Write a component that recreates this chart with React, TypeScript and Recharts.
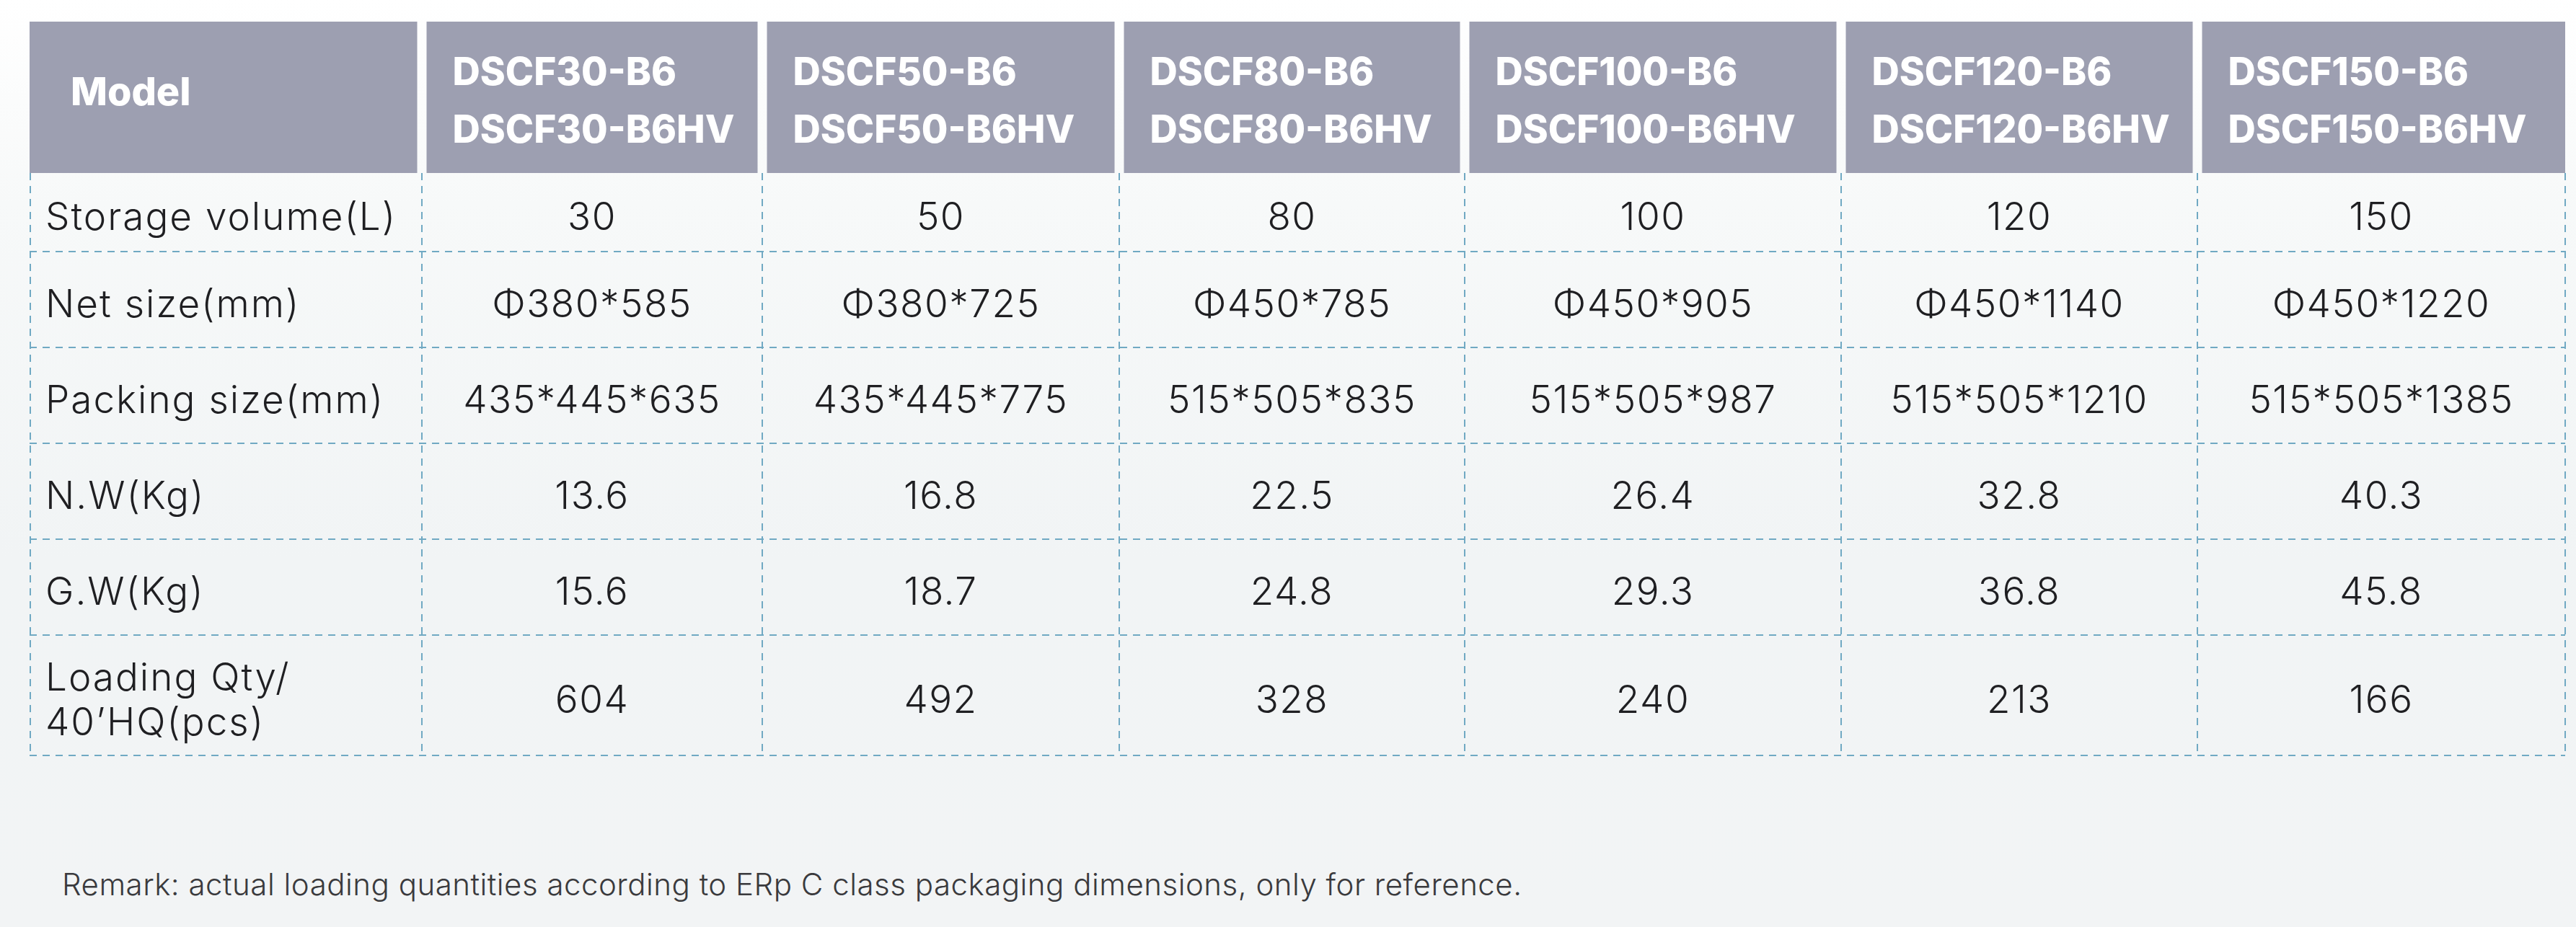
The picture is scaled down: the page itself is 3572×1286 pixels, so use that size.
import React from "react";
import { ScatterChart, Scatter, XAxis, YAxis, ReferenceLine } from "recharts";

const W = 3572;
const H = 1286;

// ---- data ----
const headerLabel = "Model";
const modelsB6 = ["DSCF30-B6", "DSCF50-B6", "DSCF80-B6", "DSCF100-B6", "DSCF120-B6", "DSCF150-B6"];
const modelsHV = ["DSCF30-B6HV", "DSCF50-B6HV", "DSCF80-B6HV", "DSCF100-B6HV", "DSCF120-B6HV", "DSCF150-B6HV"];
const rowLabels = [
  ["Storage volume(L)"],
  ["Net size(mm)"],
  ["Packing size(mm)"],
  ["N.W(Kg)"],
  ["G.W(Kg)"],
  ["Loading Qty/", "40\u2019HQ(pcs)"],
];
const storageVolume = [30, 50, 80, 100, 120, 150];
const netSize = ["\u03A6380*585", "\u03A6380*725", "\u03A6450*785", "\u03A6450*905", "\u03A6450*1140", "\u03A6450*1220"];
const packingSize = ["435*445*635", "435*445*775", "515*505*835", "515*505*987", "515*505*1210", "515*505*1385"];
const netWeight = ["13.6", "16.8", "22.5", "26.4", "32.8", "40.3"];
const grossWeight = ["15.6", "18.7", "24.8", "29.3", "36.8", "45.8"];
const loadingQty = [604, 492, 328, 240, 213, 166];
const remark = "Remark: actual loading quantities according to ERp C class packaging dimensions, only for reference.";

// ---- layout (pixel units of the chart scale) ----
const COL_EDGES = [41, 585, 1057, 1552, 2031, 2553, 3047, 3557];
const ROW_EDGES = [30, 240, 349, 482, 615, 748, 881, 1048];
const GAP = 13;

const FONT = "Inter, 'Noto Sans', sans-serif";
const HEADER_FILL = "#9d9fb1";
const DASH = "#70a9c3";

const rowValues = [storageVolume, netSize, packingSize, netWeight, grossWeight, loadingQty];

const headerCells = COL_EDGES.slice(0, -1).map((e0, c) => {
  const e1 = COL_EDGES[c + 1];
  const left = c === 0 ? e0 : e0 + GAP / 2;
  const right = c === COL_EDGES.length - 2 ? e1 : e1 - GAP / 2;
  return {
    x: (left + right) / 2,
    y: (ROW_EDGES[0] + ROW_EDGES[1]) / 2,
    w: right - left,
    h: ROW_EDGES[1] - ROW_EDGES[0],
    col: c,
    lines: c === 0 ? [headerLabel] : [modelsB6[c - 1], modelsHV[c - 1]],
  };
});

const labelCells = rowLabels.map((lines, r) => ({
  x: (COL_EDGES[0] + COL_EDGES[1]) / 2,
  y: (ROW_EDGES[r + 1] + ROW_EDGES[r + 2]) / 2,
  w: COL_EDGES[1] - COL_EDGES[0],
  h: ROW_EDGES[r + 2] - ROW_EDGES[r + 1],
  lines,
  align: "left",
}));

const valueCells = rowValues.flatMap((vals, r) =>
  vals.map((v, c) => ({
    x: (COL_EDGES[c + 1] + COL_EDGES[c + 2]) / 2,
    y: (ROW_EDGES[r + 1] + ROW_EDGES[r + 2]) / 2,
    w: COL_EDGES[c + 2] - COL_EDGES[c + 1],
    h: ROW_EDGES[r + 2] - ROW_EDGES[r + 1],
    lines: [String(v)],
    align: "center",
  }))
);

const remarkCell = [{ x: 86, y: 1226, lines: [remark] }];

const HeaderShape = (props: any) => {
  const { cx, cy, payload } = props;
  const x0 = cx - payload.w / 2;
  const y0 = cy - payload.h / 2;
  return (
    <g>
      <rect x={x0} y={y0} width={payload.w} height={payload.h} fill={HEADER_FILL} />
      {payload.col === 0 ? (
        <text x={x0 + 57} y={y0 + 116} fill="#ffffff" fontFamily={FONT} fontWeight={800} fontSize={54}>
          {payload.lines[0]}
        </text>
      ) : (
        payload.lines.map((t: string, i: number) => (
          <text
            key={i}
            x={x0 + 36}
            y={y0 + 88 + i * 80}
            fill="#ffffff"
            fontFamily={FONT}
            fontWeight={800}
            fontSize={53}
          >
            {t}
          </text>
        ))
      )}
    </g>
  );
};

const BodyShape = (props: any) => {
  const { cx, cy, payload } = props;
  const n = payload.lines.length;
  const lh = 62;
  const left = payload.align === "left";
  const x = left ? cx - payload.w / 2 + 22 : cx;
  return (
    <g>
      {payload.lines.map((t: string, i: number) => (
        <text
          key={i}
          x={x}
          y={cy + 5 + (i - (n - 1) / 2) * lh}
          textAnchor={left ? "start" : "middle"}
          dominantBaseline="central"
          fill="#1f1f22"
          fontFamily={FONT}
          fontWeight={300}
          fontSize={53}
          letterSpacing={left ? 2 : 1.5}
        >
          {t}
        </text>
      ))}
    </g>
  );
};

const RemarkShape = (props: any) => {
  const { cx, cy, payload } = props;
  return (
    <text
      x={cx}
      y={cy}
      dominantBaseline="central"
      fill="#3a3a3d"
      fontFamily={FONT}
      fontWeight={300}
      fontSize={42}
      letterSpacing={0.5}
    >
      {payload.lines[0]}
    </text>
  );
};

export default function App() {
  const hLines = ROW_EDGES.slice(2);
  const vLines = COL_EDGES.map((e, i) => (i === 0 ? e + 1 : e));
  return (
    <div
      style={{
        position: "absolute",
        left: 0,
        top: 0,
        width: W,
        height: H,
        background: "linear-gradient(180deg, #ffffff 0%, #f7f9f9 22%, #f1f4f5 60%, #f2f4f5 100%)",
      }}
    >
      <ScatterChart width={W} height={H} margin={{ top: 0, right: 0, bottom: 0, left: 0 }}>
        <XAxis type="number" dataKey="x" domain={[0, W]} hide allowDataOverflow />
        <YAxis type="number" dataKey="y" domain={[0, H]} reversed hide allowDataOverflow />
        <Scatter data={headerCells} shape={HeaderShape} isAnimationActive={false} />
        {hLines.map((y, i) => (
          <ReferenceLine
            key={"h" + i}
            segment={[
              { x: COL_EDGES[0], y },
              { x: COL_EDGES[COL_EDGES.length - 1], y },
            ]}
            stroke={DASH}
            strokeWidth={2}
            strokeDasharray="10 8"
          />
        ))}
        {vLines.map((x, i) => (
          <ReferenceLine
            key={"v" + i}
            segment={[
              { x, y: ROW_EDGES[1] },
              { x, y: ROW_EDGES[ROW_EDGES.length - 1] },
            ]}
            stroke={DASH}
            strokeWidth={2}
            strokeDasharray="10 8"
          />
        ))}
        <Scatter data={labelCells} shape={BodyShape} isAnimationActive={false} />
        <Scatter data={valueCells} shape={BodyShape} isAnimationActive={false} />
        <Scatter data={remarkCell} shape={RemarkShape} isAnimationActive={false} />
      </ScatterChart>
    </div>
  );
}
